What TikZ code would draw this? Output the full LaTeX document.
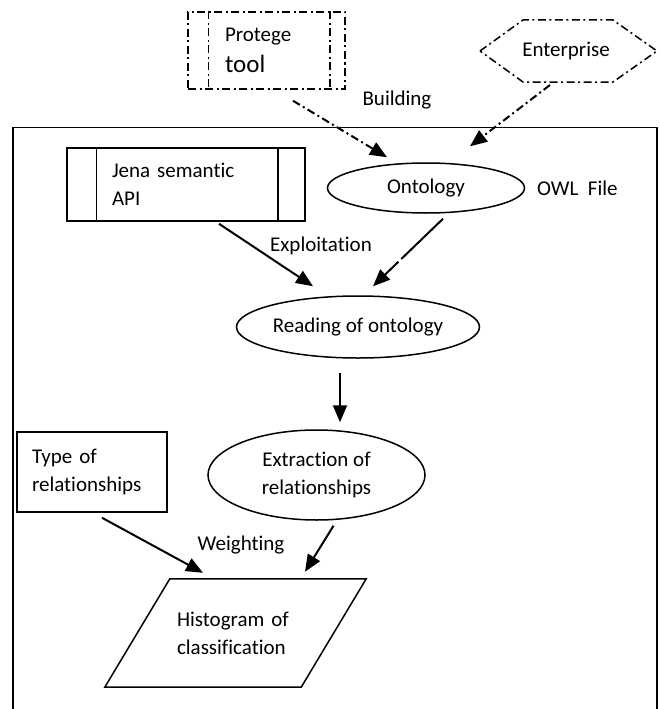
\documentclass[tikz,border=0pt]{standalone}
\usepackage{fontspec}
\setmainfont{Carlito}[Ligatures=NoCommon]
\usepackage{tikz}
\usetikzlibrary{shapes.geometric,arrows.meta,positioning}

\begin{document}
\begin{tikzpicture}[x=1pt, y=1pt,
      every node/.style={font=\fontsize{21}{28}\selectfont, align=left},
      box/.style={draw, rectangle, line width=1.5pt, inner ysep=0pt},
      oval/.style={draw, ellipse, line width=1.5pt, inner sep=0pt, align=center},
      dashdot/.style={line width=1.5pt, dash pattern=on 8pt off 3.5pt on 2pt off 3.5pt},
      arrow/.style={-{Triangle[length=17pt,width=14pt]}, line width=2pt},
      lbl/.style={inner sep=0pt}
    ]
    \useasboundingbox (0,0) rectangle (660,-709);

    \draw[line width=2pt] (13,-712) -- (13,-127);
    \draw[line width=0.8pt] (13,-127) -- (657,-127);
    \draw[line width=2pt] (657,-127) -- (657,-712);

    \node[box, dashdot, minimum width=157pt, minimum height=77pt, inner xsep=37pt, text width=83pt]
        (protege) at (266.5,-50.5) {Protege\\[3pt]{\fontsize{25}{28}\selectfont tool}};
    \draw[dashdot] ([xshift=21pt]protege.north west) -- ([xshift=21pt]protege.south west);
    \draw[dashdot] ([xshift=-16pt]protege.north east) -- ([xshift=-16pt]protege.south east);

    \node[lbl] (ent) at (566,-51) {Enterprise};
    \draw[dashdot] (480,-51) -- (523,-20) -- (613,-20) -- (657,-51) -- (613,-82) -- (523,-82) -- cycle;

    \node[lbl] (build) at (397,-100) {Building};

    \node[box, minimum width=238pt, minimum height=73pt, inner xsep=45pt, text width=148pt]
        (jena) at (186,-184.5) {Jena semantic\\API};
    \draw[line width=1.5pt] ([xshift=30pt]jena.north west) -- ([xshift=30pt]jena.south west);
    \draw[line width=1.5pt] ([xshift=-28pt]jena.north east) -- ([xshift=-28pt]jena.south east);

    \node[oval, minimum width=197pt, minimum height=50pt] (ont) at (426,-188) {Ontology};
    \node[lbl, anchor=west] (owl) at (537,-188) {OWL\ \ File};

    \node[lbl] (expl) at (321,-246) {Exploitation};

    \node[oval, minimum width=243pt, minimum height=62pt] (read) at (358,-327) {Reading of ontology};

    \node[oval, minimum width=217pt, minimum height=90pt] (extr) at (316.5,-475) {Extraction of\\relationships};

    \node[box, minimum width=150pt, minimum height=80pt, inner xsep=15pt, text width=120pt]
        (typ) at (92,-472) {Type of\\relationships};

    \node[lbl] (weight) at (241,-545) {Weighting};

    \node[minimum width=196pt, minimum height=108pt, inner xsep=39.5pt, text width=117pt]
        (hist) at (235.5,-633) {Histogram of\\classification};
    \draw[line width=1.5pt] ([xshift=32.5pt]hist.north west) -- ([xshift=32.5pt]hist.north east)
        -- ([xshift=-32.5pt]hist.south east) -- ([xshift=-32.5pt]hist.south west) -- cycle;

    \draw[arrow, dashdot, line width=2pt] ([xshift=26.5pt,yshift=-11pt]protege.south) -- ([xshift=-39pt,yshift=5pt]ont.north);
    \draw[arrow, dashdot, line width=2pt] ([xshift=-16pt,yshift=-34pt]ent.center) -- ([xshift=44pt,yshift=16pt]ont.north);
    \draw[arrow] ([xshift=33pt,yshift=-2pt]jena.south) -- ([xshift=-45pt,yshift=9pt]read.north);
    \draw[arrow, dash pattern=on 58pt off 4pt] ([xshift=17pt,yshift=-5pt]ont.south) -- ([xshift=15pt,yshift=9pt]read.north);
    \draw[arrow] ([xshift=-18pt,yshift=-14pt]read.south) -- ([xshift=23.5pt,yshift=7pt]extr.north);
    \draw[arrow] ([xshift=10pt,yshift=-5pt]typ.south) -- ([xshift=-32.5pt,yshift=6pt]hist.north);
    \draw[arrow] ([xshift=17pt,yshift=-5pt]extr.south) -- ([xshift=69.5pt,yshift=7pt]hist.north);
\end{tikzpicture}
\end{document}
